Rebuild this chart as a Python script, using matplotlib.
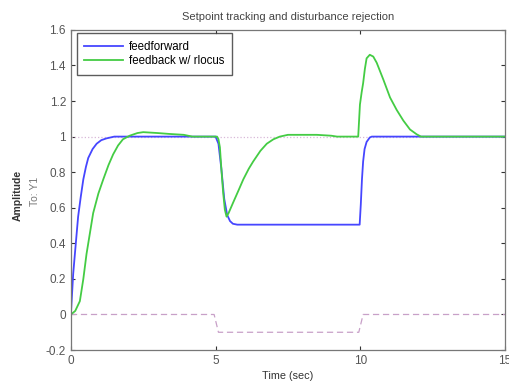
import matplotlib.pyplot as plt
import numpy as np

plt.rcParams['font.family'] = ['Liberation Sans', 'DejaVu Sans']

# Data
t_ff = [0, 0.02, 0.08, 0.17, 0.25, 0.34, 0.43, 0.52, 0.6, 0.75, 0.89, 1.05, 1.23, 1.5, 5.0,
        5.1, 5.2, 5.3, 5.4, 5.5, 5.6, 5.75, 6.0, 9.98, 10.02, 10.06, 10.1, 10.15, 10.22, 10.33, 10.4, 15]
y_ff = [0, 0.06, 0.23, 0.4, 0.55, 0.66, 0.76, 0.83, 0.88, 0.93, 0.96, 0.98, 0.99, 1.0, 1.0,
        0.96, 0.82, 0.65, 0.56, 0.525, 0.51, 0.505, 0.505, 0.505, 0.62, 0.76, 0.86, 0.93, 0.97, 0.995, 1.0, 1.0]

t_fb = [0, 0.15, 0.31, 0.43, 0.54, 0.66, 0.77, 0.95, 1.12, 1.3, 1.46, 1.63, 1.8, 2.03, 2.3, 2.5,
        3.0, 3.4, 3.9, 4.2, 5.05, 5.1, 5.15, 5.2, 5.26, 5.32, 5.38, 5.45, 5.61, 5.8, 5.96, 6.15,
        6.3, 6.55, 6.77, 7.0, 7.22, 7.5, 8.5, 9.0, 9.2, 9.93, 9.99, 10.05, 10.1, 10.16, 10.22,
        10.33, 10.45, 10.57, 10.8, 11.03, 11.26, 11.49, 11.72, 11.95, 12.1, 15]
y_fb = [0, 0.02, 0.075, 0.2, 0.34, 0.46, 0.57, 0.68, 0.76, 0.84, 0.9, 0.95, 0.985, 1.005, 1.02, 1.025,
        1.02, 1.015, 1.01, 1.0, 1.0, 0.985, 0.94, 0.82, 0.69, 0.59, 0.55, 0.57, 0.63, 0.7, 0.76, 0.82,
        0.86, 0.92, 0.96, 0.985, 1.0, 1.01, 1.01, 1.005, 1.0, 1.0, 1.18, 1.25, 1.3, 1.38, 1.44,
        1.46, 1.45, 1.415, 1.32, 1.22, 1.15, 1.09, 1.04, 1.013, 1.0, 1.0]

t_ref = [0, 15]
y_ref = [1, 1]

t_dist = [0, 4.95, 5.1, 9.95, 10.1, 15]
y_dist = [0, 0, -0.1, -0.1, 0, 0]

fig = plt.figure(figsize=(5.1, 3.83), dpi=100)
ax = fig.add_axes([0.139, 0.086, 0.851, 0.836])

ax.plot(t_ref, y_ref, color='#d8b8d8', lw=0.9, ls=':')
ax.plot(t_dist, y_dist, color='#c8a0c8', lw=0.9, ls=(0, (5, 3)))
ax.plot(t_ff, y_ff, color='#4646ff', lw=1.3, label='feedforward')
ax.plot(t_fb, y_fb, color='#44cc44', lw=1.3, label='feedback w/ rlocus')

ax.set_xlim(0, 15)
ax.set_ylim(-0.2, 1.6)
ax.set_xticks([0, 5, 10, 15])
ax.set_yticks(np.arange(-0.2, 1.61, 0.2))
ax.set_yticklabels(['-0.2', '0', '0.2', '0.4', '0.6', '0.8', '1', '1.2', '1.4', '1.6'])
ax.tick_params(direction='in', length=3, labelsize=8.5, colors='#333333', labelcolor='#555555',
               top=True, right=True)
for s in ax.spines.values():
    s.set_color('#777777')
    s.set_linewidth(0.9)

ax.set_title('Setpoint tracking and disturbance rejection', fontsize=8, color='#444444', pad=7)
ax.set_xlabel('Time (sec)', fontsize=7.8, color='#333333', labelpad=3)
fig.text(0.034, 0.49, 'Amplitude', rotation=90, fontsize=7.5, fontweight='bold', color='#333333',
         ha='center', va='center')
fig.text(0.069, 0.50, 'To: Y1', rotation=90, fontsize=7.5, color='#777777',
         ha='center', va='center')

leg = ax.legend(loc='upper left', fontsize=8.3, handlelength=3.4, frameon=True, fancybox=False,
                borderpad=0.65, labelspacing=0.25, handletextpad=0.5, borderaxespad=0,
                bbox_to_anchor=(0.013, 0.99))
leg.get_frame().set_edgecolor('#333333')
leg.get_frame().set_linewidth(1.0)

fig.savefig('out.png', dpi=100)
